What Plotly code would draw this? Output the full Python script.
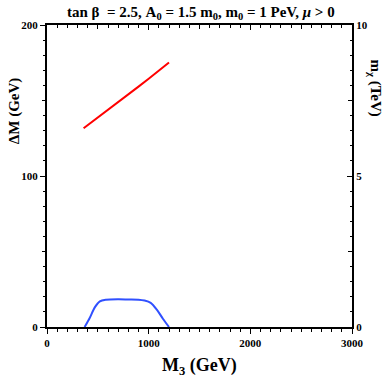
import plotly.graph_objects as go

# red curve: m_chi (TeV) vs M3 (GeV), right axis
m3_red = [360, 400, 500, 600, 700, 800, 900, 1000, 1100, 1200]
mchi_tev = [6.58, 6.68, 6.95, 7.21, 7.46, 7.70, 7.96, 8.22, 8.48, 8.76]

# blue curve: Delta M (GeV) vs M3 (GeV), left axis
m3_blue = [370, 420, 470, 520, 580, 700, 800, 900, 960, 1020, 1080, 1140, 1200]
dm_gev = [0, 6, 13, 17, 18, 18.3, 18.2, 18.1, 17.5, 16, 11.5, 5.5, 0]

x_major = [0, 1000, 2000, 3000]
x_mid = [500, 1500, 2500]
y_major = [0, 100, 200]
y_mid = [50, 150]
y2_major = [0, 5, 10]
y2_mid = [2.5, 7.5]

FONT = "Liberation Serif"
tickfont = dict(family=FONT, size=11, color="black")

fig = go.Figure()

fig.add_trace(go.Scatter(x=m3_blue, y=dm_gev, mode="lines", line=dict(color="#3050ff", width=2, shape="spline", smoothing=0.8),
                         xaxis="x", yaxis="y"))
fig.add_trace(go.Scatter(x=m3_red, y=mchi_tev, mode="lines", line=dict(color="red", width=2),
                         xaxis="x", yaxis="y2"))

common = dict(showgrid=False, zeroline=False, linecolor="black", tickcolor="black", tickwidth=1.3, automargin=False)
extra = dict(showticklabels=False, showline=False, showgrid=False, zeroline=False,
             tickcolor="black", tickwidth=1.3, automargin=False)

fig.update_layout(
    width=390, height=382,
    margin=dict(l=47, r=38, t=25, b=55, autoexpand=False),
    plot_bgcolor="white", paper_bgcolor="white",
    showlegend=False,
    title=dict(text="<b>tan β  = 2.5, A<sub>0</sub> = 1.5 m<sub>0</sub>, m<sub>0</sub> = 1 PeV, <i>μ</i> > 0</b>",
               x=0.515, xanchor="center", y=0.969, yanchor="middle",
               font=dict(family=FONT, size=15, color="black")),
    xaxis=dict(range=[0, 3000], tickvals=x_major, ticktext=["<b>%d</b>" % v for v in x_major],
               ticks="outside", ticklen=5, linewidth=2, tickfont=tickfont,
               minor=dict(dtick=100, ticks="outside", ticklen=2.5, tickcolor="black"), **common),
    xaxis2=dict(range=[0, 3000], overlaying="x", side="top", tickvals=x_major, showticklabels=False,
                ticks="inside", ticklen=5, linewidth=2,
                minor=dict(dtick=100, ticks="inside", ticklen=2.5, tickcolor="black"), **common),
    xaxis3=dict(range=[0, 3000], overlaying="x", side="bottom", tickvals=x_mid, ticks="outside", ticklen=4, **extra),
    xaxis4=dict(range=[0, 3000], overlaying="x", side="top", tickvals=x_mid, ticks="inside", ticklen=4, **extra),
    yaxis=dict(range=[0, 200], tickvals=y_major, ticktext=["<b>%d</b>" % v for v in y_major],
               ticks="outside", ticklen=5, linewidth=2, tickfont=tickfont,
               minor=dict(dtick=10, ticks="outside", ticklen=2.5, tickcolor="black"), **common),
    yaxis2=dict(range=[0, 10], overlaying="y", side="right", tickvals=y2_major,
                ticktext=["<b>%d</b>" % v for v in y2_major],
                ticks="inside", ticklen=5, linewidth=2, tickfont=tickfont,
                minor=dict(dtick=0.5, ticks="inside", ticklen=2.5, tickcolor="black"), **common),
    yaxis3=dict(range=[0, 200], overlaying="y", side="left", tickvals=y_mid, ticks="outside", ticklen=4, **extra),
    yaxis4=dict(range=[0, 10], overlaying="y", side="right", tickvals=y2_mid, ticks="inside", ticklen=4, **extra),
)

# empty traces so the overlay axes are drawn
fig.add_trace(go.Scatter(x=[None], y=[None], xaxis="x2", yaxis="y"))
fig.add_trace(go.Scatter(x=[None], y=[None], xaxis="x3", yaxis="y3"))
fig.add_trace(go.Scatter(x=[None], y=[None], xaxis="x4", yaxis="y4"))

fig.add_annotation(text="<b>M<sub>3</sub> (GeV)</b>", xref="paper", yref="paper", x=0.5, y=-0.13,
                   showarrow=False, font=dict(family=FONT, size=18, color="black"),
                   xanchor="center", yanchor="middle")
fig.add_annotation(text="<b>ΔM (GeV)</b>", xref="paper", yref="paper", x=-0.108, y=0.715, textangle=-90,
                   showarrow=False, font=dict(family=FONT, size=15, color="black"),
                   xanchor="center", yanchor="middle")
fig.add_annotation(text="<b>m<sub>χ</sub> (TeV)</b>", xref="paper", yref="paper", x=1.075, y=0.79, textangle=90,
                   showarrow=False, font=dict(family=FONT, size=15, color="black"),
                   xanchor="center", yanchor="middle")

# page body has a default 8px margin; drop it so the figure sits at the corner
fig.write_html("out.html", config={"displayModeBar": False},
               post_script="document.body.style.margin='0';")
